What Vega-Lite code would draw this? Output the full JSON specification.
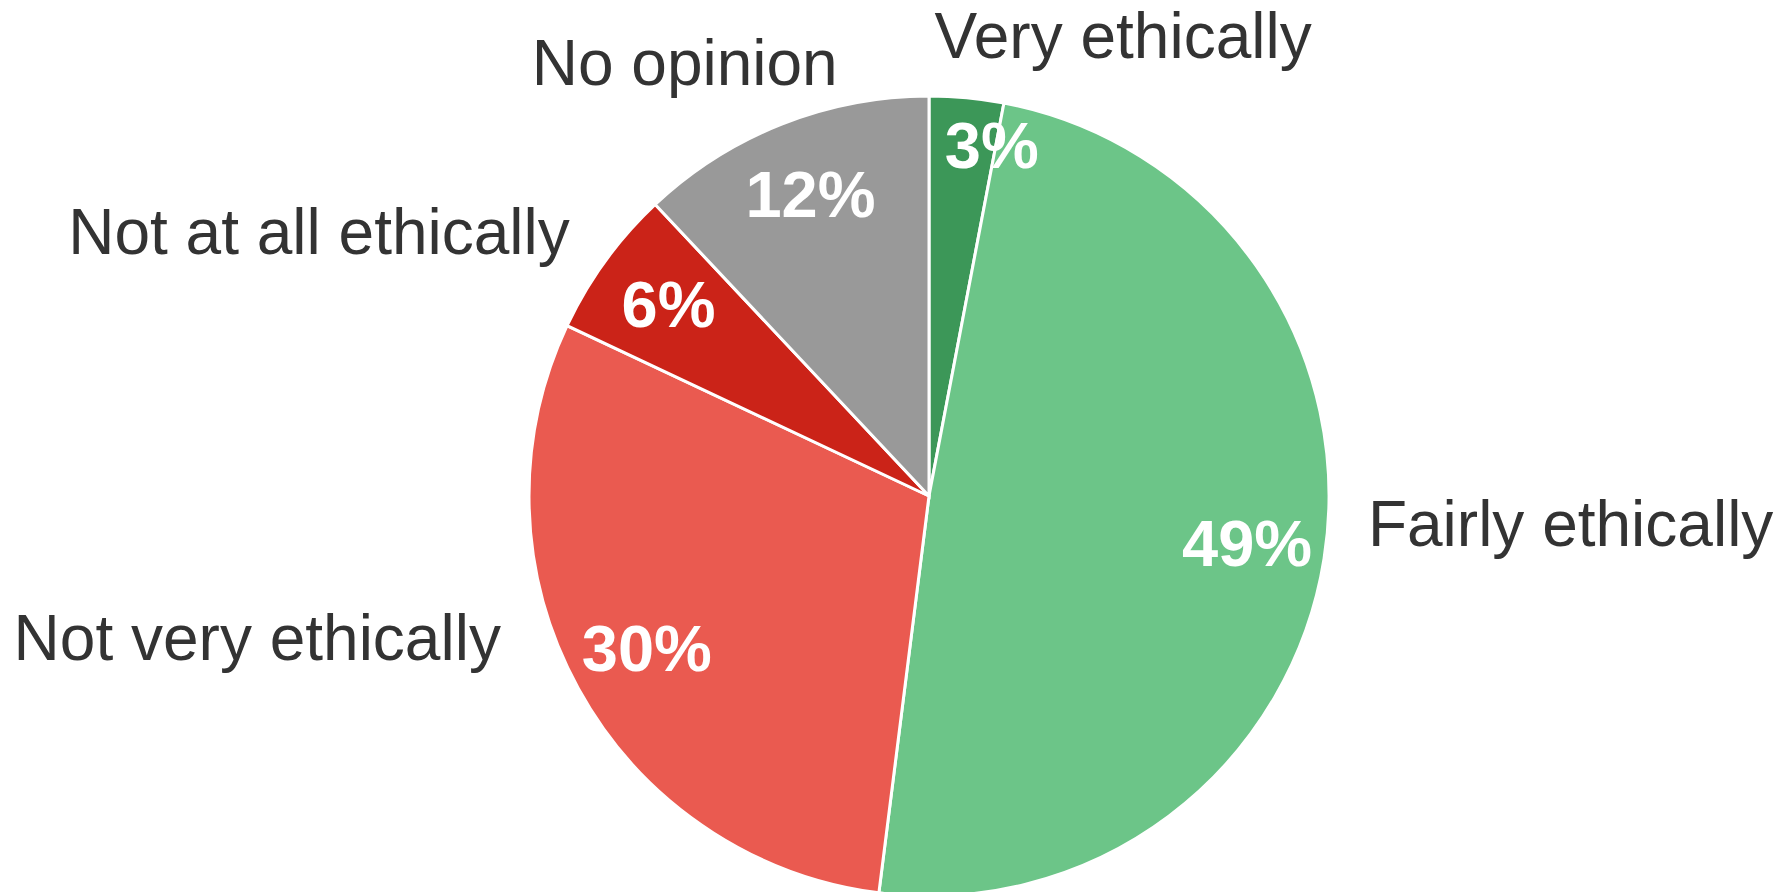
{
  "$schema": "https://vega.github.io/schema/vega-lite/v6.json",
  "autosize": {"type": "none"},
  "width": 800,
  "height": 792,
  "padding": {"left": 529, "top": 100, "right": 458, "bottom": 0},
  "background": "white",
  "config": {"view": {"stroke": null}, "font": "Liberation Sans"},
  "data": {
    "values": [
      {"category": "Very ethically", "value": 3, "rank": 1, "label": "3%"},
      {"category": "Fairly ethically", "value": 49, "rank": 2, "label": "49%"},
      {"category": "Not very ethically", "value": 30, "rank": 3, "label": "30%"},
      {"category": "Not at all ethically", "value": 6, "rank": 4, "label": "6%"},
      {"category": "No opinion", "value": 12, "rank": 5, "label": "12%"}
    ]
  },
  "encoding": {
    "theta": {"field": "value", "type": "quantitative", "stack": true},
    "order": {"field": "rank", "type": "quantitative"}
  },
  "layer": [
    {
      "mark": {"type": "arc", "radius": 400, "stroke": "white", "strokeWidth": 3},
      "encoding": {
        "color": {
          "field": "category",
          "type": "nominal",
          "scale": {
            "domain": ["Very ethically", "Fairly ethically", "Not very ethically", "Not at all ethically", "No opinion"],
            "range": ["#3c9758", "#6cc588", "#ea5a50", "#cb2318", "#999999"]
          },
          "legend": null
        }
      }
    },
    {
      "mark": {"type": "text", "radius": 322, "fontSize": 65, "fontWeight": "bold", "color": "white", "align": "center", "baseline": "middle"},
      "encoding": {
        "text": {"condition": {"test": "datum.category !== 'Very ethically'", "field": "label"}, "value": ""}
      }
    },
    {
      "mark": {"type": "text", "radius": 354, "thetaOffset": 0.084, "fontSize": 65, "fontWeight": "bold", "color": "white", "align": "center", "baseline": "middle"},
      "encoding": {
        "text": {"condition": {"test": "datum.category === 'Very ethically'", "field": "label"}, "value": ""}
      }
    },
    {
      "mark": {"type": "text", "radius": 457, "thetaOffset": -0.082, "fontSize": 64, "color": "#333333", "align": "left", "baseline": "middle"},
      "encoding": {
        "text": {"condition": {"test": "datum.category === 'Very ethically'", "field": "category"}, "value": ""}
      }
    },
    {
      "mark": {"type": "text", "radius": 440, "thetaOffset": -0.087, "fontSize": 64, "color": "#333333", "align": "left", "baseline": "middle"},
      "encoding": {
        "text": {"condition": {"test": "datum.category === 'Fairly ethically'", "field": "category"}, "value": ""}
      }
    },
    {
      "mark": {"type": "text", "radius": 452, "thetaOffset": 0.176, "fontSize": 64, "color": "#333333", "align": "right", "baseline": "middle"},
      "encoding": {
        "text": {"condition": {"test": "datum.category === 'Not very ethically'", "field": "category"}, "value": ""}
      }
    },
    {
      "mark": {"type": "text", "radius": 444, "fontSize": 64, "color": "#333333", "align": "right", "baseline": "middle"},
      "encoding": {
        "text": {"condition": {"test": "datum.category === 'Not at all ethically'", "field": "category"}, "value": ""}
      }
    },
    {
      "mark": {"type": "text", "radius": 440, "thetaOffset": 0.168, "fontSize": 64, "color": "#333333", "align": "right", "baseline": "middle"},
      "encoding": {
        "text": {"condition": {"test": "datum.category === 'No opinion'", "field": "category"}, "value": ""}
      }
    }
  ]
}
